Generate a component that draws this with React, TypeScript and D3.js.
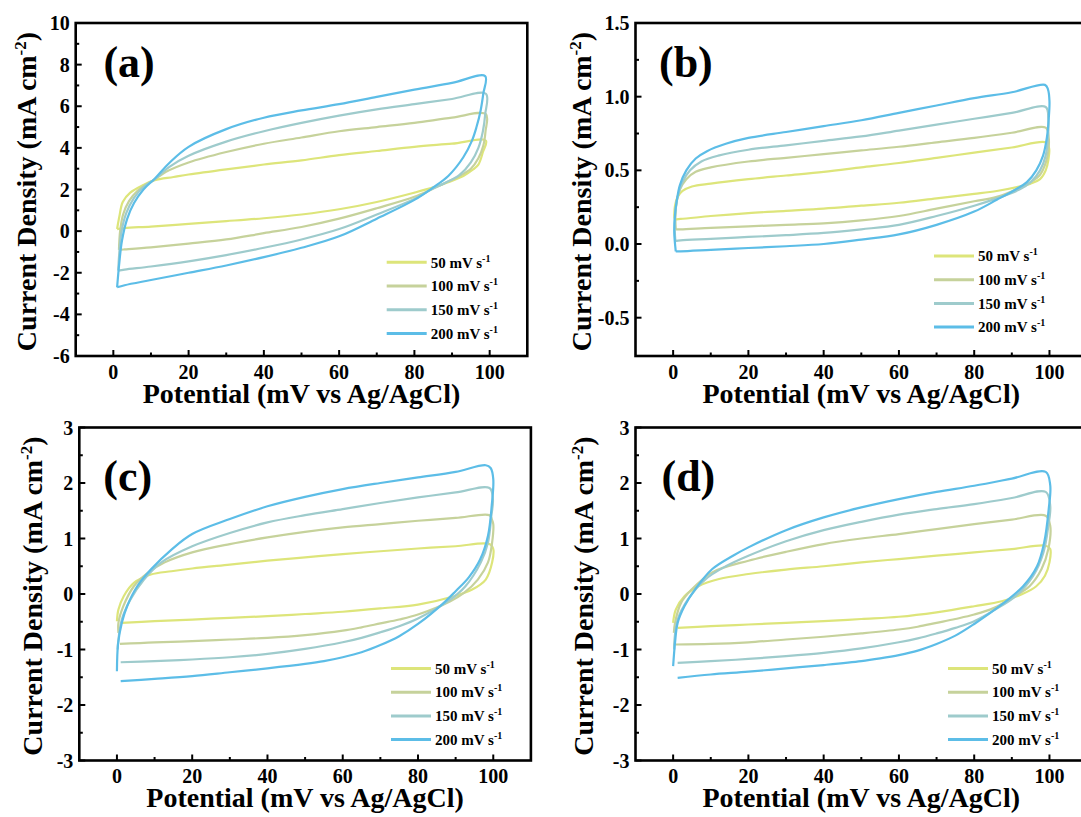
import React from "react";
import * as d3 from "d3";

type Pt = [number, number];

const rates = ["50", "100", "150", "200"];
const rateColors = ["#dde57a", "#c6d29b", "#9ecbcc", "#5cbde7"];

const xTicks = [0, 20, 40, 60, 80, 100];
const xMinor = [10, 30, 50, 70, 90];

const aTicks = [-6, -4, -2, 0, 2, 4, 6, 8, 10];
const aMinor = [-5, -3, -1, 1, 3, 5, 7, 9];
const bTicks = [-0.5, 0, 0.5, 1.0, 1.5];
const bMinor = [-0.25, 0.25, 0.75, 1.25];
const cdTicks = [-3, -2, -1, 0, 1, 2, 3];
const cdMinor = [-2.5, -1.5, -0.5, 0.5, 1.5, 2.5];

// (a) CV loops: forward scan, switching corner, reverse scan
const a50: Pt[] = [[1, 0.1], [1.6, 0.7], [2.5, 1.4], [4.5, 1.85], [8, 2.22], [11, 2.45], [16, 2.6], [20, 2.72], [30, 2.97], [40, 3.2], [50, 3.4], [60, 3.65], [70, 3.85], [80, 4.05], [90, 4.2], [99, 4.35],
  [98.2, 3.8], [97, 3.2], [95.5, 2.95], [93, 2.65], [89, 2.35], [85, 2.1], [80, 1.85], [70, 1.4], [60, 1.05], [50, 0.8], [40, 0.62], [30, 0.48], [20, 0.35], [10, 0.22], [3, 0.15], [1, 0.1]];
const a100: Pt[] = [[1.5, -0.9], [1.8, 0.0], [2.6, 0.8], [4.2, 1.45], [6.5, 1.95], [9, 2.27], [11, 2.48], [14, 2.85], [20, 3.3], [30, 3.8], [40, 4.2], [50, 4.5], [60, 4.8], [70, 5.0], [80, 5.2], [90, 5.45], [99, 5.62],
  [98.9, 4.8], [98.3, 4.1], [97, 3.5], [95, 3.0], [91.5, 2.6], [88, 2.3], [85, 2.05], [80, 1.65], [70, 1.1], [60, 0.6], [50, 0.2], [40, -0.1], [30, -0.4], [20, -0.6], [10, -0.78], [3, -0.88], [1.5, -0.9]];
const a150: Pt[] = [[1.3, -1.9], [1.6, -1.0], [2.1, -0.1], [3.4, 0.85], [5.5, 1.6], [8, 2.12], [11, 2.5], [15, 3.1], [20, 3.62], [30, 4.3], [40, 4.8], [50, 5.2], [60, 5.55], [70, 5.85], [80, 6.1], [90, 6.35], [99, 6.6],
  [98.8, 5.6], [98.2, 4.8], [97, 4.0], [95, 3.3], [92, 2.7], [88, 2.3], [85, 2.05], [80, 1.55], [70, 0.8], [60, 0.1], [50, -0.4], [40, -0.8], [30, -1.15], [20, -1.45], [10, -1.7], [3, -1.85], [1.3, -1.9]];
const a200: Pt[] = [[1, -2.7], [1.6, -1.5], [2.3, -0.45], [3.7, 0.6], [5.5, 1.35], [8, 2.0], [11, 2.52], [15, 3.3], [20, 4.05], [30, 4.9], [40, 5.45], [50, 5.8], [60, 6.1], [70, 6.45], [80, 6.8], [90, 7.12], [98.8, 7.45],
  [98.3, 6.6], [97.6, 5.8], [96.5, 5.0], [95.3, 4.35], [93, 3.55], [89, 2.65], [85, 2.1], [80, 1.5], [70, 0.6], [60, -0.25], [50, -0.8], [40, -1.25], [30, -1.65], [20, -2.0], [10, -2.35], [3, -2.6], [1, -2.7]];

// (b)
const b50: Pt[] = [[0.3, 0.2], [0.5, 0.26], [1.2, 0.32], [2.5, 0.36], [5, 0.39], [10, 0.41], [20, 0.44], [30, 0.465], [40, 0.49], [50, 0.52], [60, 0.55], [70, 0.585], [80, 0.62], [90, 0.655], [99, 0.69],
  [99.9, 0.65], [99.7, 0.57], [99, 0.5], [97.5, 0.44], [95, 0.41], [92, 0.39], [86, 0.36], [80, 0.34], [70, 0.31], [60, 0.28], [50, 0.26], [40, 0.24], [30, 0.225], [20, 0.21], [10, 0.19], [2, 0.17], [0.5, 0.17], [0.3, 0.2]];
const b100: Pt[] = [[0.7, 0.1], [0.6, 0.18], [0.9, 0.28], [1.8, 0.37], [3.5, 0.44], [6, 0.49], [10, 0.52], [20, 0.56], [30, 0.585], [40, 0.61], [50, 0.635], [60, 0.66], [70, 0.69], [80, 0.72], [90, 0.755], [99, 0.79],
  [99.8, 0.72], [99.7, 0.63], [99, 0.55], [97.5, 0.47], [95, 0.42], [92, 0.38], [86, 0.32], [80, 0.29], [70, 0.24], [60, 0.19], [50, 0.16], [40, 0.14], [30, 0.13], [20, 0.12], [10, 0.11], [2, 0.1], [0.7, 0.1]];
const b150: Pt[] = [[0.6, 0.02], [0.4, 0.12], [0.6, 0.22], [1.2, 0.32], [2.5, 0.42], [4.5, 0.5], [7.5, 0.56], [12, 0.6], [20, 0.64], [30, 0.67], [40, 0.7], [50, 0.73], [60, 0.77], [70, 0.81], [80, 0.85], [90, 0.89], [99, 0.93],
  [99.7, 0.85], [99.6, 0.72], [99, 0.6], [97.5, 0.5], [95, 0.42], [92, 0.37], [86, 0.31], [80, 0.26], [70, 0.19], [60, 0.13], [50, 0.1], [40, 0.075], [30, 0.06], [20, 0.048], [10, 0.035], [2, 0.025], [0.6, 0.02]];
const b200: Pt[] = [[0.7, -0.05], [0.3, 0.08], [0.5, 0.2], [1.0, 0.3], [1.8, 0.4], [3.5, 0.5], [6, 0.58], [9, 0.63], [14, 0.68], [20, 0.72], [30, 0.76], [40, 0.8], [50, 0.84], [60, 0.89], [70, 0.94], [80, 0.99], [90, 1.03], [98.8, 1.08],
  [99.6, 1.05], [100, 0.97], [99.8, 0.85], [99.3, 0.72], [98.3, 0.6], [96.5, 0.5], [94, 0.42], [91, 0.37], [86, 0.3], [80, 0.22], [70, 0.13], [60, 0.065], [50, 0.03], [40, 0.0], [30, -0.015], [20, -0.027], [10, -0.04], [2, -0.05], [0.7, -0.05]];

// (c)
const c50: Pt[] = [[0, -0.49], [0.4, -0.28], [1.8, -0.04], [4.5, 0.2], [9, 0.35], [14.5, 0.41], [20, 0.46], [30, 0.53], [40, 0.6], [50, 0.66], [60, 0.72], [70, 0.77], [80, 0.82], [90, 0.86], [99, 0.9],
  [100, 0.81], [99.7, 0.57], [98, 0.26], [94.4, 0.08], [89.6, -0.04], [80, -0.19], [70, -0.26], [60, -0.32], [50, -0.36], [40, -0.4], [30, -0.43], [20, -0.46], [10, -0.49], [1.3, -0.52]];
const c100: Pt[] = [[0.4, -0.7], [0.4, -0.52], [1.7, -0.22], [4.5, 0.14], [8.2, 0.38], [12.7, 0.57], [20, 0.75], [30, 0.9], [40, 1.02], [50, 1.12], [60, 1.2], [70, 1.26], [80, 1.32], [90, 1.37], [99, 1.42],
  [99.6, 1.35], [100, 1.26], [99.7, 0.93], [98.6, 0.57], [95.9, 0.26], [92.2, 0.02], [88.6, -0.13], [80, -0.37], [75, -0.46], [70, -0.53], [65, -0.6], [60, -0.66], [50, -0.74], [40, -0.79], [30, -0.82], [20, -0.85], [10, -0.87], [0.8, -0.9]];
const c150: Pt[] = [[0.2, -1.0], [0.3, -0.88], [1.3, -0.46], [3.6, -0.1], [7.2, 0.26], [11.8, 0.57], [20, 0.86], [30, 1.1], [40, 1.29], [50, 1.42], [60, 1.53], [70, 1.64], [80, 1.74], [90, 1.83], [99, 1.91],
  [99.9, 1.71], [99.5, 1.41], [98.6, 0.93], [96.7, 0.57], [92.6, 0.14], [88, -0.13], [80, -0.44], [75, -0.58], [70, -0.69], [65, -0.79], [60, -0.87], [50, -0.99], [40, -1.08], [30, -1.14], [20, -1.18], [10, -1.21], [1, -1.23]];
const c200: Pt[] = [[0, -1.39], [0.3, -0.9], [1.3, -0.52], [2.7, -0.22], [5.4, 0.14], [9, 0.44], [14.5, 0.8], [20, 1.08], [30, 1.35], [40, 1.58], [50, 1.75], [60, 1.89], [70, 2.0], [80, 2.1], [90, 2.2], [98, 2.32],
  [99.3, 2.27], [100, 2.07], [99.6, 1.6], [98.6, 1.05], [96.5, 0.62], [93.5, 0.3], [90, 0.05], [87, -0.15], [80, -0.54], [75, -0.76], [70, -0.92], [65, -1.05], [60, -1.14], [55, -1.21], [50, -1.26], [40, -1.34], [30, -1.41], [20, -1.48], [10, -1.53], [1, -1.57]];

// (d)
const d50: Pt[] = [[0, -0.52], [0.7, -0.28], [3, -0.04], [6.7, 0.14], [12.2, 0.27], [20, 0.36], [30, 0.44], [40, 0.5], [50, 0.57], [60, 0.63], [70, 0.69], [80, 0.75], [90, 0.81], [99, 0.87],
  [100.2, 0.81], [100, 0.57], [98.8, 0.33], [96.5, 0.14], [92.8, 0], [87.3, -0.13], [80, -0.22], [70, -0.33], [60, -0.41], [50, -0.45], [40, -0.49], [30, -0.52], [20, -0.55], [10, -0.58], [1.2, -0.61]];
const d100: Pt[] = [[0.2, -0.7], [0.5, -0.52], [2.1, -0.16], [4.9, 0.08], [10.4, 0.39], [20, 0.6], [30, 0.76], [40, 0.9], [50, 1.0], [60, 1.08], [70, 1.17], [80, 1.26], [90, 1.34], [99, 1.41],
  [100.2, 1.23], [99.7, 0.81], [97.9, 0.45], [94.7, 0.14], [90, -0.07], [85.3, -0.25], [80, -0.37], [75, -0.45], [70, -0.52], [65, -0.59], [60, -0.64], [50, -0.71], [40, -0.77], [30, -0.82], [20, -0.87], [10, -0.9], [0.7, -0.91]];
const d150: Pt[] = [[0.3, -1.0], [0.3, -0.88], [1.2, -0.46], [3.9, -0.1], [8.5, 0.26], [14, 0.5], [20, 0.69], [30, 0.95], [40, 1.15], [50, 1.3], [60, 1.43], [70, 1.53], [80, 1.62], [90, 1.73], [99, 1.84],
  [100.2, 1.59], [99.7, 1.23], [98.4, 0.75], [95.7, 0.33], [91, -0.04], [85.6, -0.28], [80, -0.49], [75, -0.61], [70, -0.71], [65, -0.8], [60, -0.87], [50, -0.98], [40, -1.06], [30, -1.12], [20, -1.17], [10, -1.21], [1.2, -1.24]];
const d200: Pt[] = [[0, -1.3], [0.5, -0.88], [1.2, -0.52], [3, -0.22], [5.8, 0.08], [10.4, 0.45], [15.9, 0.69], [20, 0.84], [30, 1.15], [40, 1.38], [50, 1.56], [60, 1.71], [70, 1.84], [80, 1.95], [90, 2.08], [99, 2.2],
  [100.2, 1.96], [99.8, 1.53], [98.6, 0.93], [96.7, 0.5], [93, 0.14], [87.5, -0.18], [80, -0.54], [75, -0.75], [70, -0.9], [65, -1.02], [60, -1.1], [55, -1.16], [50, -1.21], [40, -1.28], [30, -1.34], [20, -1.4], [10, -1.45], [1.2, -1.51]];

const W = 451.6;
const H = 333;
const font = "'Liberation Serif', 'Times New Roman', serif";

type PanelProps = {
  left: number;
  top: number;
  yDomain: [number, number];
  yTicks: number[];
  yMinor: number[];
  fmt: (v: number) => string;
  tag: string;
  tagX: number;
  tagY: number;
  titleX: number;
  legX: number;
  legY: number;
  series: Pt[][];
};

const Panel = (p: PanelProps) => {
  const x = d3.scaleLinear().domain([-10, 110]).range([0, W]);
  const y = d3.scaleLinear().domain(p.yDomain).range([H, 0]);
  const line = d3
    .line<Pt>()
    .x(d => x(d[0]))
    .y(d => y(d[1]))
    .curve(d3.curveCatmullRom.alpha(0.5));

  return (
    <g transform={`translate(${p.left},${p.top})`} fontFamily={font} fontWeight="bold">
      {p.series.map((s, i) => (
        <path key={i} d={line(s) || ""} fill="none" stroke={rateColors[i]} strokeWidth={2.2} strokeLinejoin="round" />
      ))}

      {xTicks.map(t => (
        <g key={"x" + t}>
          <line x1={x(t)} x2={x(t)} y1={H} y2={H - 6} stroke="#000" strokeWidth={2} />
          <text x={x(t)} y={H + 22.5} fontSize={20} textAnchor="middle">{t}</text>
        </g>
      ))}
      {xMinor.map(t => (
        <line key={"xm" + t} x1={x(t)} x2={x(t)} y1={H} y2={H - 3.5} stroke="#000" strokeWidth={2} />
      ))}
      {p.yTicks.map(t => (
        <g key={"y" + t}>
          <line x1={0} x2={6} y1={y(t)} y2={y(t)} stroke="#000" strokeWidth={2} />
          <text x={-6} y={y(t)} dy="0.35em" fontSize={20} textAnchor="end">{p.fmt(t)}</text>
        </g>
      ))}
      {p.yMinor.map(t => (
        <line key={"ym" + t} x1={0} x2={3.5} y1={y(t)} y2={y(t)} stroke="#000" strokeWidth={2} />
      ))}

      <rect x={0} y={0} width={W} height={H} fill="none" stroke="#000" strokeWidth={2.6} />

      <text x={p.tagX} y={p.tagY} fontSize={44}>{p.tag}</text>

      <text x={W / 2} y={H + 46.5} fontSize={28} textAnchor="middle">Potential (mV vs Ag/AgCl)</text>
      <text transform={`translate(${p.titleX},${H / 2 + 2}) rotate(-90)`} fontSize={28} textAnchor="middle">
        Current Density (mA cm<tspan dy={-10} fontSize={17}>-2</tspan><tspan dy={10}>)</tspan>
      </text>

      {rates.map((r, i) => {
        const ly = p.legY + i * 23.7;
        return (
          <g key={"l" + r}>
            <line x1={p.legX} x2={p.legX + 40} y1={ly} y2={ly} stroke={rateColors[i]} strokeWidth={3} />
            <text x={p.legX + 44} y={ly} dy="0.35em" fontSize={15}>
              {r} mV s<tspan dy={-6} fontSize={10}>-1</tspan>
            </text>
          </g>
        );
      })}
    </g>
  );
};

const intFmt = (v: number) => String(v);
const decFmt = (v: number) => v.toFixed(1);

export default function App() {
  return (
    <svg width={1081} height={817} style={{ position: "absolute", left: 0, top: 0, background: "#fff" }}>
      <Panel left={75.7} top={23} yDomain={[-6, 10]} yTicks={aTicks} yMinor={aMinor} fmt={intFmt}
        tag="(a)" tagX={27.7} tagY={54} titleX={-40} legX={311} legY={239.3} series={[a50, a100, a150, a200]} />
      <Panel left={635.5} top={23} yDomain={[-0.76, 1.5]} yTicks={bTicks} yMinor={bMinor} fmt={decFmt}
        tag="(b)" tagX={23.5} tagY={54} titleX={-44.5} legX={298.5} legY={233} series={[b50, b100, b150, b200]} />
      <Panel left={79.3} top={427.5} yDomain={[-3, 3]} yTicks={cdTicks} yMinor={cdMinor} fmt={intFmt}
        tag="(c)" tagX={24} tagY={63} titleX={-37} legX={311.7} legY={241} series={[c50, c100, c150, c200]} />
      <Panel left={635.5} top={427.5} yDomain={[-3, 3]} yTicks={cdTicks} yMinor={cdMinor} fmt={intFmt}
        tag="(d)" tagX={26} tagY={63} titleX={-42.5} legX={312.5} legY={241} series={[d50, d100, d150, d200]} />
    </svg>
  );
}
